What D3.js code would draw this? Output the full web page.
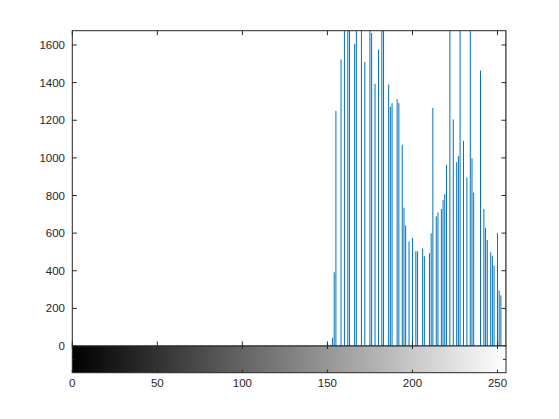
<!DOCTYPE html>
<html>
<head>
<meta charset="utf-8">
<script src="https://cdn.jsdelivr.net/npm/d3@7"></script>
<style>
  body { margin: 0; background: #fff; }
  svg { display: block; font-family: Arial, "Liberation Sans", sans-serif; }
</style>
</head>
<body>
<svg id="chart" width="559" height="419"></svg>
<script>
// Histogram counts per gray level (levels with no count are zero)
const levels = [153, 154, 155, 158, 160, 162, 163, 166, 167, 170, 172, 175, 176, 178, 180, 182, 183,
  186, 187, 188, 191, 192, 194, 195, 196, 198, 200, 202, 203, 206, 207, 210, 211, 212, 214, 215,
  217, 218, 219, 220, 222, 224, 226, 227, 228, 230, 232, 234, 235, 236, 240, 242, 243, 244, 246,
  247, 248, 250, 251, 252, 255];
const counts = [44, 392, 1249, 1523, 2100, 1950, 2000, 1606, 1900, 2050, 1510, 1800, 1664, 1394, 1576, 1850, 1900,
  1390, 1272, 1291, 1312, 1291, 1070, 735, 641, 555, 575, 503, 503, 519, 477, 493, 599, 1266, 689, 710,
  728, 775, 807, 963, 1750, 1205, 977, 1010, 1720, 1090, 896, 1780, 998, 816, 1464, 728, 627, 564, 498,
  480, 428, 600, 295, 269, 1900];

const xTicks = [0, 50, 100, 150, 200, 250];
const yTicks = [0, 200, 400, 600, 800, 1000, 1200, 1400, 1600];

const svg = d3.select('#chart');
const m = { left: 72.3, right: 506, top: 30.7, bottom: 346, barBottom: 372.7 };
const axisColor = '#262626';

const x = d3.scaleLinear().domain([0, 255]).range([m.left, m.right]);
const y = d3.scaleLinear().domain([0, 1676]).range([m.bottom, m.top]);

svg.append('rect').attr('width', 559).attr('height', 419).attr('fill', '#fff');

const defs = svg.append('defs');
// clip stems to the axes box
defs.append('clipPath').attr('id', 'plotclip')
  .append('rect').attr('x', m.left).attr('y', m.top)
  .attr('width', m.right - m.left).attr('height', m.bottom - m.top);

// Stems
svg.append('g').attr('clip-path', 'url(#plotclip)')
  .selectAll('line')
  .data(levels.map((l, i) => ({ l, c: counts[i] })))
  .join('line')
  .attr('x1', d => x(d.l))
  .attr('x2', d => x(d.l))
  .attr('y1', y(0))
  .attr('y2', d => y(d.c))
  .attr('stroke', '#0072BD')
  .attr('stroke-width', 1);

// Main axes box
svg.append('rect')
  .attr('x', m.left).attr('y', m.top)
  .attr('width', m.right - m.left).attr('height', m.bottom - m.top)
  .attr('fill', 'none').attr('stroke', axisColor).attr('stroke-width', 1);

// Y ticks (inside, both sides) and labels
const yg = svg.append('g');
yTicks.forEach(t => {
  yg.append('line').attr('x1', m.left).attr('x2', m.left + 4.5).attr('y1', y(t)).attr('y2', y(t))
    .attr('stroke', axisColor);
  yg.append('line').attr('x1', m.right).attr('x2', m.right - 4.5).attr('y1', y(t)).attr('y2', y(t))
    .attr('stroke', axisColor);
  yg.append('text').attr('x', 65).attr('y', y(t)).attr('dy', '0.35em')
    .attr('text-anchor', 'end').attr('font-size', 11.5).attr('fill', axisColor).text(t);
});

// X ticks on main axes (inside, top and bottom)
xTicks.forEach(t => {
  svg.append('line').attr('x1', x(t)).attr('x2', x(t)).attr('y1', m.bottom).attr('y2', m.bottom - 4.5)
    .attr('stroke', axisColor);
  svg.append('line').attr('x1', x(t)).attr('x2', x(t)).attr('y1', m.top).attr('y2', m.top + 4.5)
    .attr('stroke', axisColor);
});

// Colorbar
const grad = defs.append('linearGradient').attr('id', 'gray')
  .attr('x1', '0%').attr('x2', '100%').attr('y1', '0%').attr('y2', '0%');
grad.append('stop').attr('offset', '0%').attr('stop-color', '#000');
grad.append('stop').attr('offset', '100%').attr('stop-color', '#fff');

svg.append('rect')
  .attr('x', m.left).attr('y', m.bottom)
  .attr('width', m.right - m.left).attr('height', m.barBottom - m.bottom)
  .attr('fill', 'url(#gray)')
  .attr('stroke', axisColor).attr('stroke-width', 1);

const cbMid = (m.bottom + m.barBottom) / 2;
svg.append('line').attr('x1', m.left).attr('x2', m.left + 3).attr('y1', cbMid).attr('y2', cbMid).attr('stroke', axisColor);
svg.append('line').attr('x1', m.right).attr('x2', m.right - 3).attr('y1', cbMid).attr('y2', cbMid).attr('stroke', axisColor);

const xg = svg.append('g');
xTicks.forEach(t => {
  xg.append('line').attr('x1', x(t)).attr('x2', x(t)).attr('y1', m.bottom).attr('y2', m.bottom + 3)
    .attr('stroke', axisColor);
  xg.append('line').attr('x1', x(t)).attr('x2', x(t)).attr('y1', m.barBottom).attr('y2', m.barBottom - 3)
    .attr('stroke', axisColor);
  xg.append('text').attr('x', x(t)).attr('y', 383).attr('dy', '0.35em')
    .attr('text-anchor', 'middle').attr('font-size', 11.5).attr('fill', axisColor).text(t);
});
</script>
</body>
</html>
